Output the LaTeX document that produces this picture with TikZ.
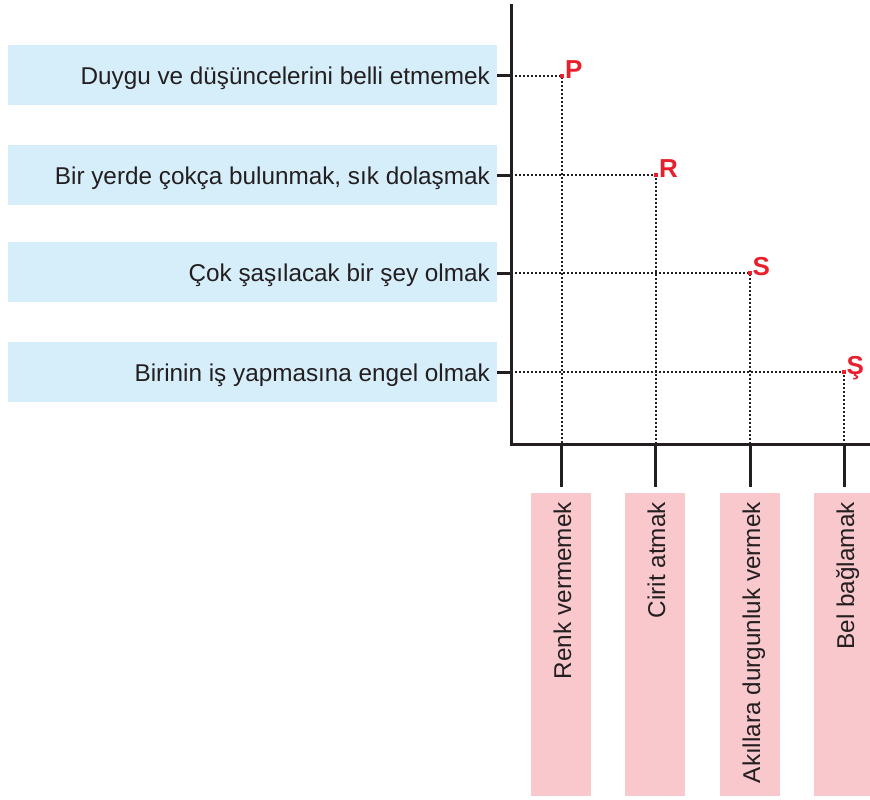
\documentclass[tikz,border=0pt]{standalone}
\usepackage{fontspec}
\setmainfont{Liberation Sans}
\definecolor{axisc}{RGB}{35,31,32}
\definecolor{blueb}{RGB}{214,237,250}
\definecolor{pinkb}{RGB}{248,200,205}
\definecolor{redl}{RGB}{232,32,45}
\begin{document}
\begin{tikzpicture}[x=1pt,y=-1pt,
  axisline/.style={draw=axisc,line width=3pt},
  tickline/.style={draw=axisc,line width=3pt},
  dotline/.style={draw=axisc,line width=1.6pt,dash pattern=on 1.6pt off 2.4pt},
  lbox/.style={fill=blueb,inner sep=0pt,minimum width=489pt,minimum height=60pt},
  kbox/.style={fill=pinkb,inner sep=0pt,minimum width=60pt,minimum height=303pt},
  ltext/.style={inner sep=0pt,anchor=base east,text=axisc,font=\fontsize{24.3}{28}\selectfont},
  ktext/.style={inner sep=0pt,anchor=base east,rotate=90,text=axisc,font=\fontsize{24.3}{28}\selectfont},
  reddot/.style={fill=redl,inner sep=0pt,minimum size=3.6pt,rectangle},
  redlab/.style={inner sep=0pt,anchor=base west,text=redl,font=\bfseries\fontsize{26}{30}\selectfont}]
\useasboundingbox (0,0) rectangle (870,800);
% left boxes
\node[lbox] (b1) at (252.5,75) {};
\node[lbox] (b2) at (252.5,175) {};
\node[lbox] (b3) at (252.5,272) {};
\node[lbox] (b4) at (252.5,372) {};
\node[ltext] (l1) at (490,84.5) {Duygu ve düşüncelerini belli etmemek};
\node[ltext] (l2) at (490,184) {Bir yerde çokça bulunmak, sık dolaşmak};
\node[ltext] (l3) at (490,281) {Çok şaşılacak bir şey olmak};
\node[ltext] (l4) at (490,381) {Birinin iş yapmasına engel olmak};
% bottom boxes
\node[kbox] (k1) at (561,644.5) {};
\node[kbox] (k2) at (655,644.5) {};
\node[kbox] (k3) at (750,644.5) {};
\node[kbox] (k4) at (844,644.5) {};
\node[ktext] (m1) at (571,502) {Renk vermemek};
\node[ktext] (m2) at (665,502) {Cirit atmak};
\node[ktext] (m3) at (760,502) {Akıllara durgunluk vermek};
\node[ktext] (m4) at (854,502) {Bel bağlamak};
% axes
\coordinate (T) at (511,4);
\coordinate (O) at (511,444);
\coordinate (E) at (870,444);
\draw[axisline,line cap=butt,line join=miter] (T) -- (O) -- (E);
% points
\coordinate (p1) at (562,76);
\coordinate (p2) at (656,175);
\coordinate (p3) at (750,273);
\coordinate (p4) at (844,372);
\coordinate (a1) at (511,76);
\coordinate (a2) at (511,175);
\coordinate (a3) at (511,273);
\coordinate (a4) at (511,372);
% left ticks
\draw[tickline] (b1.east |- a1) -- (a1);
\draw[tickline] (b2.east |- a2) -- (a2);
\draw[tickline] (b3.east |- a3) -- (a3);
\draw[tickline] (b4.east |- a4) -- (a4);
% dotted guides
\draw[dotline] (a1) -- (p1) -- (p1 |- O);
\draw[dotline] (a2) -- (p2) -- (p2 |- O);
\draw[dotline] (a3) -- (p3) -- (p3 |- O);
\draw[dotline] (a4) -- (p4) -- (p4 |- O);
% bottom ticks
\draw[tickline] (k1.north |- O) -- ([yshift=6pt]k1.north);
\draw[tickline] (k2.north |- O) -- ([yshift=6pt]k2.north);
\draw[tickline] (k3.north |- O) -- ([yshift=6pt]k3.north);
\draw[tickline] (k4.north |- O) -- ([yshift=6pt]k4.north);
% red dots and labels
\node[reddot] (d1) at (p1) {};
\node[reddot] (d2) at (p2) {};
\node[reddot] (d3) at (p3) {};
\node[reddot] (d4) at (p4) {};
\node[redlab] (r1) at (565,78.5) {P};
\node[redlab] (r2) at (659,177) {R};
\node[redlab] (r3) at (752.5,275.5) {S};
\node[redlab] (r4) at (846.5,374) {Ş};
\end{tikzpicture}
\end{document}
